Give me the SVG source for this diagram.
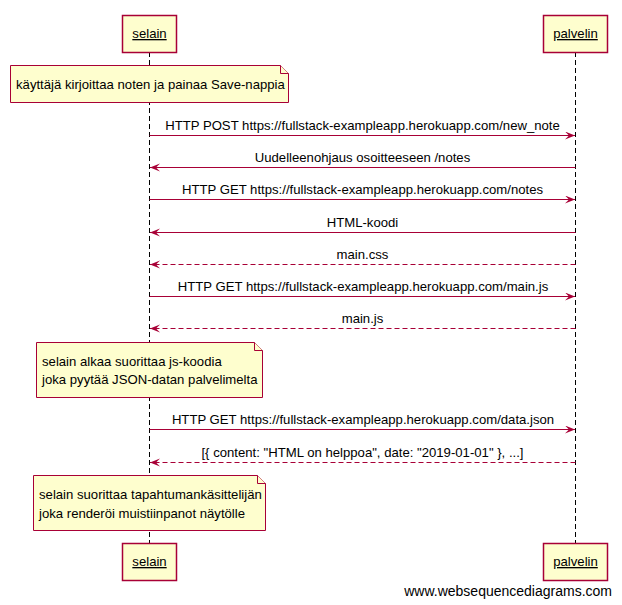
<svg xmlns="http://www.w3.org/2000/svg" width="622" height="605" viewBox="0 0 622 605">
<style>
text{font-family:"Liberation Sans",Arial,sans-serif;font-size:13.15px;fill:#000}
.box{fill:#FEFECE;stroke:#A80036;stroke-width:1.5}
.note{fill:#FEFECE;stroke:#A80036;stroke-width:1}
.life{stroke:#000;stroke-width:1;stroke-dasharray:5,3;fill:none}
.msg{stroke:#A80036;stroke-width:1;fill:none;marker-end:url(#ah)}
.dash{stroke-dasharray:5,3}
.lbl{text-anchor:middle}
.pl{text-anchor:middle;text-decoration:underline}
</style>
<defs>
<marker id="ah" markerUnits="userSpaceOnUse" markerWidth="11" markerHeight="9" refX="10" refY="4" orient="auto" viewBox="0 0 11 9">
<path d="M0,0 L10,4 L0,8 L4,4 Z" fill="#A80036"/>
</marker>
</defs>
<rect width="622" height="605" fill="#fff"/>
<g id="lifelines">
<line class="life" x1="149.5" y1="52" x2="149.5" y2="543"/>
<line class="life" x1="575.5" y1="52" x2="575.5" y2="543"/>
</g>
<g id="selain-top"><rect class="box" x="122.5" y="15.5" width="54" height="37"/><text class="pl" x="149.5" y="38">selain</text></g>
<g id="palvelin-top"><rect class="box" x="543.5" y="15.5" width="64" height="37"/><text class="pl" x="575.5" y="38">palvelin</text></g>
<g id="selain-bottom"><rect class="box" x="122.5" y="543.5" width="54" height="37"/><text class="pl" x="149.5" y="566">selain</text></g>
<g id="palvelin-bottom"><rect class="box" x="543.5" y="543.5" width="64" height="37"/><text class="pl" x="575.5" y="566">palvelin</text></g>
<g id="note1">
<path class="note" d="M10.5,65.5 H280.5 L288.5,73.5 V102.5 H10.5 Z"/>
<path class="note" d="M280.5,65.5 V73.5 H288.5"/>
<text x="16" y="89">käyttäjä kirjoittaa noten ja painaa Save-nappia</text>
</g>
<g id="note2">
<path class="note" d="M36.5,342.5 H254.5 L262.5,350.5 V397.5 H36.5 Z"/>
<path class="note" d="M254.5,342.5 V350.5 H262.5"/>
<text x="42" y="366">selain alkaa suorittaa js-koodia</text>
<text x="42" y="384">joka pyytää JSON-datan palvelimelta</text>
</g>
<g id="note3">
<path class="note" d="M33.5,475.5 H257.5 L265.5,483.5 V530.5 H33.5 Z"/>
<path class="note" d="M257.5,475.5 V483.5 H265.5"/>
<text x="39" y="499">selain suorittaa tapahtumankäsittelijän</text>
<text x="39" y="517.5">joka renderöi muistiinpanot näytölle</text>
</g>
<g id="connectors">
<line class="msg" x1="149.5" y1="135.5" x2="575" y2="135.5"/>
<text class="lbl" x="362.5" y="130">HTTP POST https://fullstack-exampleapp.herokuapp.com/new_note</text>
<line class="msg" x1="575.5" y1="167.5" x2="150" y2="167.5"/>
<text class="lbl" x="362.5" y="162">Uudelleenohjaus osoitteeseen /notes</text>
<line class="msg" x1="149.5" y1="199.5" x2="575" y2="199.5"/>
<text class="lbl" x="362.5" y="194">HTTP GET https://fullstack-exampleapp.herokuapp.com/notes</text>
<line class="msg" x1="575.5" y1="232.5" x2="150" y2="232.5"/>
<text class="lbl" x="362.5" y="227">HTML-koodi</text>
<line class="msg dash" x1="575.5" y1="264.5" x2="150" y2="264.5"/>
<text class="lbl" x="362.5" y="259">main.css</text>
<line class="msg" x1="149.5" y1="296.5" x2="575" y2="296.5"/>
<text class="lbl" x="363" y="291">HTTP GET https://fullstack-exampleapp.herokuapp.com/main.js</text>
<line class="msg dash" x1="575.5" y1="328.5" x2="150" y2="328.5"/>
<text class="lbl" x="362.5" y="323">main.js</text>
<line class="msg" x1="149.5" y1="429.5" x2="575" y2="429.5"/>
<text class="lbl" x="363" y="424">HTTP GET https://fullstack-exampleapp.herokuapp.com/data.json</text>
<line class="msg dash" x1="575.5" y1="462.5" x2="150" y2="462.5"/>
<text class="lbl" x="362.5" y="457">[{ content: "HTML on helppoa", date: "2019-01-01" }, ...]</text>
</g>
<text x="612" y="596" style="font-size:14px;text-anchor:end">www.websequencediagrams.com</text>
</svg>
